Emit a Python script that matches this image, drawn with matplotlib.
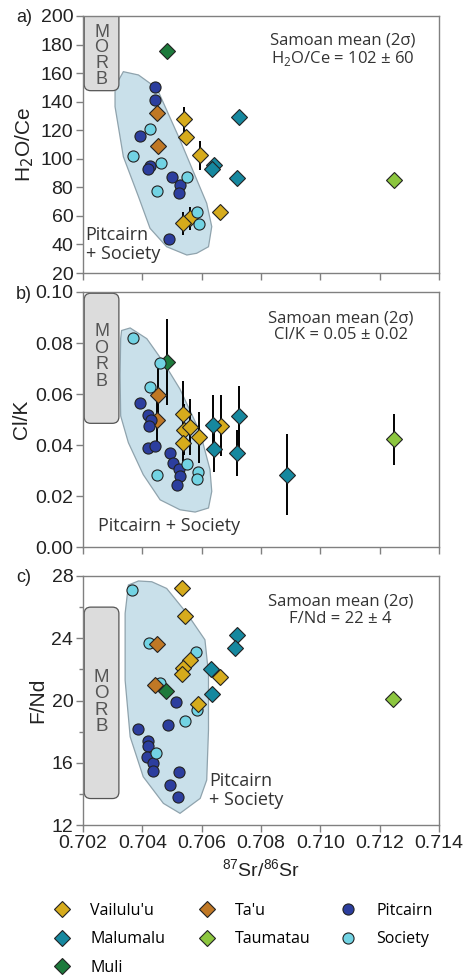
import numpy as np
import matplotlib.pyplot as plt
from matplotlib.patches import Polygon, FancyBboxPatch

plt.rcParams['font.family'] = ['Liberation Sans', 'DejaVu Sans']
LABEL_FONT = ['Open Sans', 'DejaVu Sans']

# ---- colours per group
col = {
    "Vailulu'u": '#d6ab1c',
    'Malumalu': '#16889f',
    'Muli': '#1d7a3c',
    "Ta'u": '#c07825',
    'Taumatau': '#8cc63f',
    'Pitcairn': '#2c3e9e',
    'Society': '#72d3e3',
}

# ===== panel a: H2O/Ce
vail_sr_a = [0.70541, 0.70547, 0.70595, 0.70662, 0.70561, 0.70536]
vail_a = [127.6, 115, 102.4, 63, 58.3, 54.8]
vail_a_err = [9, 0, 10, 0, 8, 8]
malu_sr_a = [0.70725, 0.70640, 0.70634, 0.70720]
malu_a = [129, 95.7, 92.6, 86.8]
muli_sr_a = [0.70482]
muli_a = [175.7]
tau_sr_a = [0.70451, 0.70454]
tau_a = [132, 109]
taum_sr_a = [0.71249]
taum_a = [85]
pit_sr_a = [0.70444, 0.70444, 0.70392, 0.70426, 0.70420, 0.70499, 0.70527, 0.70524, 0.70491]
pit_a = [150, 141, 116, 95, 93, 87.5, 81.6, 76, 43.6]
soc_sr_a = [0.70426, 0.70370, 0.70462, 0.70550, 0.70449, 0.70585, 0.70591]
soc_a = [120.6, 102, 97, 87, 77.5, 63, 54.3]
field_sr_a = [0.70336, 0.70387, 0.70449, 0.70527, 0.70617, 0.70634, 0.70623, 0.70583,
              0.70550, 0.70482, 0.70426, 0.70387, 0.70336, 0.70308, 0.70308]
field_a = [161, 158.7, 149.4, 113.2, 68.8, 52.5, 38.4, 33.8, 32.6, 38.4, 51.3, 73.5,
           101.5, 136.5, 150.5]

# ===== panel b: Cl/K
vail_sr_b = [0.70536, 0.70540, 0.70561, 0.70538, 0.70592, 0.70664]
vail_b = [0.0521, 0.0459, 0.0472, 0.0409, 0.0431, 0.0475]
vail_b_err = [0.013, 0.010, 0.011, 0.011, 0.010, 0.012]
malu_sr_b = [0.70637, 0.70640, 0.70725, 0.70718, 0.70889]
malu_b = [0.0477, 0.0383, 0.0512, 0.0367, 0.0284]
malu_b_err = [0.012, 0.009, 0.012, 0.009, 0.016]
muli_sr_b = [0.70484]
muli_b = [0.0725]
muli_b_err = [0.017]
tau_sr_b = [0.70454, 0.70451]
tau_b = [0.0596, 0.0498]
tau_b_err = [0.012, 0.011]
taum_sr_b = [0.71247]
taum_b = [0.0422]
taum_b_err = [0.010]
pit_sr_b = [0.70392, 0.70420, 0.70430, 0.70424, 0.70420, 0.70443, 0.70493, 0.70502,
            0.70524, 0.70527, 0.70518]
pit_b = [0.0564, 0.0517, 0.0497, 0.0475, 0.0389, 0.0396, 0.0370, 0.0330, 0.0304,
         0.0277, 0.0242]
soc_sr_b = [0.70370, 0.70460, 0.70426, 0.70449, 0.70550, 0.70589, 0.70583]
soc_b = [0.0820, 0.0721, 0.0628, 0.0284, 0.0324, 0.0295, 0.0268]
field_sr_b = [0.70330, 0.70359, 0.70415, 0.70471, 0.70527, 0.70595, 0.70628, 0.70634,
              0.70623, 0.70578, 0.70527, 0.70460, 0.70403, 0.70353, 0.70327, 0.70325,
              0.70327]
field_b = [0.0849, 0.0859, 0.0817, 0.0725, 0.0619, 0.0449, 0.0304, 0.0218, 0.0153,
           0.0137, 0.0146, 0.0185, 0.0284, 0.0409, 0.0514, 0.0672, 0.0817]

# ===== panel c: F/Nd
vail_sr_c = [0.70533, 0.70544, 0.70559, 0.70536, 0.70534, 0.70662, 0.70589]
vail_c = [27.2, 25.4, 22.6, 22.1, 21.7, 21.5, 19.8]
malu_sr_c = [0.70720, 0.70713, 0.70632, 0.70636]
malu_c = [24.2, 23.4, 22.0, 20.4]
muli_sr_c = [0.70480]
muli_c = [20.6]
tau_sr_c = [0.70449, 0.70443]
tau_c = [23.6, 21.0]
taum_sr_c = [0.71245]
taum_c = [20.1]
pit_sr_c = [0.70514, 0.70387, 0.70486, 0.70418, 0.70420, 0.70415, 0.70437, 0.70435,
            0.70525, 0.70493, 0.70521]
pit_c = [19.9, 18.2, 18.4, 17.4, 17.1, 16.4, 16.0, 15.5, 15.4, 14.6, 13.8]
soc_sr_c = [0.70364, 0.70423, 0.70581, 0.70460, 0.70583, 0.70544, 0.70446]
soc_c = [27.1, 23.7, 23.1, 21.1, 19.4, 18.7, 16.6]
field_sr_c = [0.70353, 0.70387, 0.70432, 0.70482, 0.70550, 0.70611, 0.70623, 0.70623,
              0.70617, 0.70595, 0.70527, 0.70471, 0.70403, 0.70359, 0.70342, 0.70342]
field_c = [27.42, 27.68, 27.63, 27.2, 25.6, 23.9, 21.75, 18.1, 14.89, 13.71, 12.75,
           13.39, 15.1, 17.67, 21.3, 25.6]

xticks = [0.702, 0.704, 0.706, 0.708, 0.710, 0.712, 0.714]

# legend columns (as laid out under the figure)
legend_cols = [["Vailulu'u", 'Malumalu', 'Muli'], ["Ta'u", 'Taumatau'], ['Pitcairn', 'Society']]


def dots(ax, x, y, name, marker, err=None):
    if err is not None:
        ax.errorbar(x, y, yerr=err, fmt='none', ecolor='black', elinewidth=1.4,
                    capsize=0, zorder=3)
    ms = 8.5 if marker == 'D' else 8
    ax.plot(x, y, marker, color=col[name], mec='#222222', mew=0.8, ms=ms,
            ls='none', label=name, zorder=4)


def morb(ax, y0, y1):
    # aspect of data units per pixel (y / x) so the corners stay round
    pos = ax.get_position()
    w_px = pos.width * fig.get_figwidth() * fig.dpi
    h_px = pos.height * fig.get_figheight() * fig.dpi
    xr = np.diff(ax.get_xlim())[0] / w_px
    yr = np.diff(ax.get_ylim())[0] / h_px
    box = FancyBboxPatch((0.70204, y0), 0.00117, y1 - y0,
                         boxstyle='round,pad=0,rounding_size=0.00022',
                         mutation_aspect=yr / xr,
                         fc='#dcdcdc', ec='#555555', lw=0.9, zorder=2)
    ax.add_patch(box)


fig = plt.figure(figsize=(4.68, 9.8), dpi=100)
left, width = 83 / 468, 356 / 468
ax_a = fig.add_axes([left, 1 - 273 / 980, width, 257 / 980])
ax_b = fig.add_axes([left, 1 - 547 / 980, width, 255 / 980])
ax_c = fig.add_axes([left, 1 - 825 / 980, width, 249 / 980])

panels = [
    (ax_a, (20, 200), np.arange(20, 201, 20), None),
    (ax_b, (0, 0.10), np.arange(0, 0.101, 0.02), None),
    (ax_c, (12, 28), np.arange(12, 29, 4), np.arange(14, 28, 4)),
]
for ax, ylim, yt, ymin in panels:
    ax.set_xlim(0.702, 0.714)
    ax.set_ylim(*ylim)
    ax.set_xticks(xticks)
    ax.set_yticks(yt)
    if ymin is not None:
        ax.set_yticks(ymin, minor=True)
    for s in ax.spines.values():
        s.set_color('#808080')
        s.set_linewidth(1.0)
    ax.tick_params(direction='out', color='#808080', labelsize=14, length=5, width=1,
                   pad=2, labelcolor='#222222')
    ax.tick_params(which='minor', direction='out', color='#808080', length=3, width=1)

ax_a.set_yticklabels([str(v) for v in range(20, 201, 20)])
ax_b.set_yticklabels(['%.2f' % v for v in np.arange(0, 0.101, 0.02)])
ax_a.set_xticklabels([])
ax_b.set_xticklabels([])
ax_c.set_xticklabels(['%.3f' % v for v in xticks])

# fields
for ax, fx, fy in [(ax_a, field_sr_a, field_a), (ax_b, field_sr_b, field_b),
                   (ax_c, field_sr_c, field_c)]:
    ax.add_patch(Polygon(list(zip(fx, fy)), closed=True, fc='#c9e0ea',
                         ec='#8fa3ad', lw=0.9, zorder=1))

# MORB boxes
morb(ax_a, 147.7, 215)
morb(ax_b, 0.0485, 0.0995)
morb(ax_c, 13.7, 26.0)
ax_a.text(0.702625, 172, 'M\nO\nR\nB', ha='center', va='center', fontsize=13,
          color='#555555', linespacing=0.92, zorder=3)
ax_b.text(0.702625, 0.0747, 'M\nO\nR\nB', ha='center', va='center', fontsize=13,
          color='#555555', linespacing=0.95, zorder=3)
ax_c.text(0.702625, 19.9, 'M\nO\nR\nB', ha='center', va='center', fontsize=13.5,
          color='#555555', linespacing=0.95, zorder=3)

# panel a points
dots(ax_a, vail_sr_a, vail_a, "Vailulu'u", 'D', vail_a_err)
dots(ax_a, malu_sr_a, malu_a, 'Malumalu', 'D')
dots(ax_a, muli_sr_a, muli_a, 'Muli', 'D')
dots(ax_a, tau_sr_a, tau_a, "Ta'u", 'D')
dots(ax_a, taum_sr_a, taum_a, 'Taumatau', 'D')
dots(ax_a, pit_sr_a, pit_a, 'Pitcairn', 'o')
dots(ax_a, soc_sr_a, soc_a, 'Society', 'o')

# panel b points
dots(ax_b, vail_sr_b, vail_b, "Vailulu'u", 'D', vail_b_err)
dots(ax_b, malu_sr_b, malu_b, 'Malumalu', 'D', malu_b_err)
dots(ax_b, muli_sr_b, muli_b, 'Muli', 'D', muli_b_err)
dots(ax_b, tau_sr_b, tau_b, "Ta'u", 'D', tau_b_err)
dots(ax_b, taum_sr_b, taum_b, 'Taumatau', 'D', taum_b_err)
dots(ax_b, pit_sr_b, pit_b, 'Pitcairn', 'o')
dots(ax_b, soc_sr_b, soc_b, 'Society', 'o')

# panel c points
dots(ax_c, pit_sr_c, pit_c, 'Pitcairn', 'o')
dots(ax_c, soc_sr_c, soc_c, 'Society', 'o')
dots(ax_c, vail_sr_c, vail_c, "Vailulu'u", 'D')
dots(ax_c, malu_sr_c, malu_c, 'Malumalu', 'D')
dots(ax_c, muli_sr_c, muli_c, 'Muli', 'D')
dots(ax_c, tau_sr_c, tau_c, "Ta'u", 'D')
dots(ax_c, taum_sr_c, taum_c, 'Taumatau', 'D')

# labels
ax_a.set_ylabel('H$_2$O/Ce', fontsize=15, labelpad=3, color='#222222')
ax_b.set_ylabel('Cl/K', fontsize=15, labelpad=3, color='#222222')
ax_c.set_ylabel('F/Nd', fontsize=15, labelpad=3, color='#222222')
ax_c.set_xlabel('$^{\\mathregular{87}}$Sr/$^{\\mathregular{86}}$Sr', fontsize=14,
                labelpad=5, color='#222222')

fig.text(16 / 468, 1 - 18 / 980, 'a)', fontsize=13, va='center', color='#222222')
fig.text(16 / 468, 1 - 294 / 980, 'b)', fontsize=13, va='center', color='#222222')
fig.text(16 / 468, 1 - 578 / 980, 'c)', fontsize=13, va='center', color='#222222')

ax_a.text(0.71074, 176, 'Samoan mean (2σ)\nH$_{\\mathregular{2}}$O/Ce = 102 ± 60',
          ha='center', va='center', fontsize=12, family=LABEL_FONT, color='#333333',
          linespacing=1.1)
ax_b.text(0.71068, 0.0864, 'Samoan mean (2σ)\nCl/K = 0.05 ± 0.02',
          ha='center', va='center', fontsize=12, family=LABEL_FONT, color='#333333',
          linespacing=1.1)
ax_c.text(0.71068, 25.8, 'Samoan mean (2σ)\nF/Nd = 22 ± 4',
          ha='center', va='center', fontsize=12, family=LABEL_FONT, color='#333333',
          linespacing=1.1)

ax_a.text(0.70209, 40, 'Pitcairn\n+ Society', ha='left', va='center', fontsize=13,
          family=LABEL_FONT, color='#333333', linespacing=1.05)
ax_b.text(0.7049, 0.0083, 'Pitcairn + Society', ha='center', va='center', fontsize=13,
          family=LABEL_FONT, color='#333333')
ax_c.text(0.70625, 14.2, 'Pitcairn\n+ Society', ha='left', va='center', fontsize=13,
          family=LABEL_FONT, color='#333333', linespacing=1.05)

# legend: one block per column
hs, ls = ax_a.get_legend_handles_labels()
hmap = dict(zip(ls, hs))
col_x = [52, 197, 338]
for names, x0 in zip(legend_cols, col_x):
    fig.legend([hmap[k] for k in names], names, loc='upper left',
               bbox_to_anchor=(x0 / 468, 1 - 903 / 980), frameon=False,
               prop={'family': LABEL_FONT, 'size': 11.5}, handlelength=1.2,
               handletextpad=1.2, labelspacing=0.78, borderpad=0, borderaxespad=0)

fig.savefig('out.png', dpi=100)
